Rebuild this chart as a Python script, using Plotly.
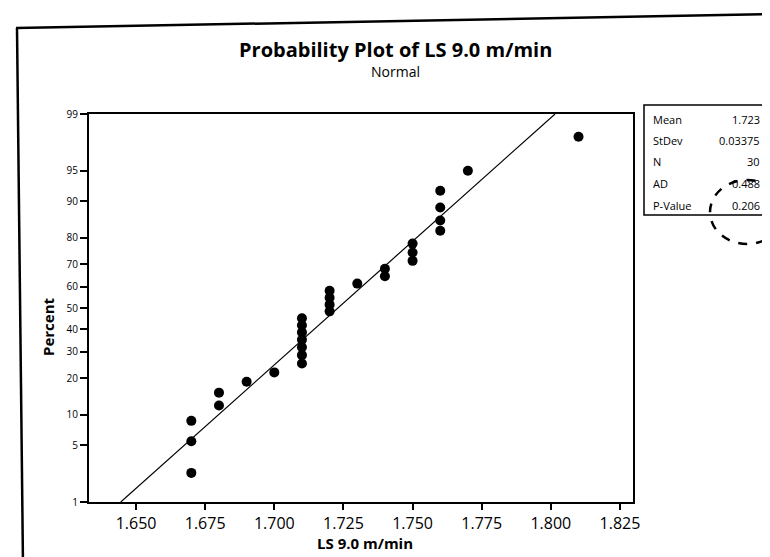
import plotly.graph_objects as go
from statistics import NormalDist

# ---- data ----
ls_values = [1.67, 1.67, 1.67, 1.68, 1.68, 1.69, 1.70,
             1.71, 1.71, 1.71, 1.71, 1.71, 1.71, 1.71,
             1.72, 1.72, 1.72, 1.72, 1.73, 1.74, 1.74,
             1.75, 1.75, 1.75, 1.76, 1.76, 1.76, 1.76,
             1.77, 1.81]
plot_percent = [2.4, 5.5, 8.8, 12.1, 15.5, 18.8, 22.0,
                25.3, 28.6, 31.9, 35.2, 38.5, 41.8, 45.1,
                48.4, 51.6, 54.9, 58.2, 61.5, 64.8, 68.1,
                71.4, 74.7, 78.0, 82.3, 85.3, 88.6, 92.0,
                95.0, 98.0]
fit_mean = 1.723
fit_stdev = 0.03375
stat_labels = ["Mean", "StDev", "N", "AD", "P-Value"]
stat_values = ["1.723", "0.03375", "30", "0.488", "0.206"]
y_tick_percents = [1, 5, 10, 20, 30, 40, 50, 60, 70, 80, 90, 95, 99]
x_tick_values = [1.650, 1.675, 1.700, 1.725, 1.750, 1.775, 1.800, 1.825]
x_tick_labels = ["1.650", "1.675", "1.700", "1.725", "1.750", "1.775", "1.800", "1.825"]

W, H = 770, 557
L, R, T, B = 81, 625, 106, 494

def px(x):
    return (x - L) / (R - L)

def py(y):
    return (B - y) / (B - T)

std = NormalDist()
z = lambda p: std.inv_cdf(p / 100.0)

y_points = [z(p) for p in plot_percent]
y_ticks = [z(p) for p in y_tick_percents]
fit = NormalDist(fit_mean, fit_stdev)
line_x = [fit.inv_cdf(0.01), fit.inv_cdf(0.99)]
line_y = [z(1), z(99)]

fig = go.Figure()
fig.add_trace(go.Scatter(x=line_x, y=line_y, mode="lines",
                         line=dict(color="black", width=1.2), showlegend=False,
                         hoverinfo="skip"))
fig.add_trace(go.Scatter(x=ls_values, y=y_points, mode="markers",
                         marker=dict(color="black", size=10, symbol="circle"),
                         showlegend=False))

FONT = "Open Sans, Lato, DejaVu Sans, sans-serif"

fig.update_layout(
    width=W, height=H,
    margin=dict(l=L, r=W - R, t=T, b=H - B, pad=0),
    paper_bgcolor="white", plot_bgcolor="white",
    font=dict(family=FONT, color="black"),
    xaxis=dict(range=[1.633, 1.8297], tickvals=x_tick_values, ticktext=x_tick_labels,
               showline=True, linecolor="black", linewidth=2, mirror=True,
               ticks="outside", ticklen=6, tickwidth=1.5, tickcolor="black",
               showgrid=False, zeroline=False,
               tickfont=dict(size=16, family=FONT, color="black")),
    yaxis=dict(range=[z(1), z(99)], tickvals=y_ticks,
               ticktext=[str(p) for p in y_tick_percents],
               showline=True, linecolor="black", linewidth=2, mirror=True,
               ticks="outside", ticklen=7, tickwidth=1.5, tickcolor="black",
               showgrid=False, zeroline=False,
               tickfont=dict(size=10, family=FONT, color="black")),
)

ann = []
ann.append(dict(text="<b>Probability Plot of LS 9.0 m/min</b>", x=px(387), y=py(42),
                xref="paper", yref="paper", showarrow=False,
                font=dict(size=20, family=FONT), xanchor="center", yanchor="middle"))
ann.append(dict(text="Normal", x=px(387), y=py(64), xref="paper", yref="paper",
                showarrow=False, font=dict(size=14, family=FONT),
                xanchor="center", yanchor="middle"))
ann.append(dict(text="<b>LS 9.0 m/min</b>", x=px(357), y=py(535), xref="paper", yref="paper",
                showarrow=False, font=dict(size=15, family=FONT),
                xanchor="center", yanchor="middle"))
ann.append(dict(text="<b>Percent</b>", x=px(40), y=py(319), xref="paper", yref="paper",
                showarrow=False, textangle=-90, font=dict(size=15, family=FONT),
                xanchor="center", yanchor="middle"))

row_y = [112, 132, 153, 175, 197]
for lab, val, ry in zip(stat_labels, stat_values, row_y):
    ann.append(dict(text=lab, x=px(643), y=py(ry), xref="paper", yref="paper",
                    showarrow=False, font=dict(size=11, family=FONT),
                    xanchor="left", yanchor="middle"))
    ann.append(dict(text=val, x=px(754), y=py(ry), xref="paper", yref="paper",
                    showarrow=False, font=dict(size=11, family=FONT),
                    xanchor="right", yanchor="middle"))
fig.update_layout(annotations=ann)

shapes = [
    dict(type="rect", xref="paper", yref="paper", x0=px(636), x1=px(764), y0=py(97), y1=py(207),
         line=dict(color="black", width=1.5), fillcolor="rgba(0,0,0,0)"),
    dict(type="circle", xref="paper", yref="paper", x0=px(702), x1=px(776), y0=py(172), y1=py(236),
         line=dict(color="black", width=2.5, dash="dash")),
    dict(type="line", xref="paper", yref="paper", x0=px(8), y0=py(20), x1=px(770), y1=py(6),
         line=dict(color="black", width=2.5)),
    dict(type="line", xref="paper", yref="paper", x0=px(9), y0=py(20), x1=px(15), y1=py(557),
         line=dict(color="black", width=2.5)),
]
fig.update_layout(shapes=shapes)

fig.write_html("out.html")
